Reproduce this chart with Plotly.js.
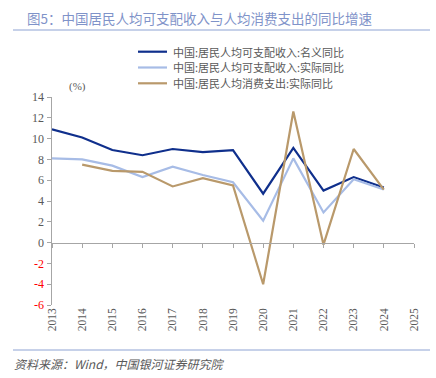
<!DOCTYPE html>
<html><head><meta charset="utf-8">
<script src="https://cdn.plot.ly/plotly-3.0.1.min.js"></script>
<style>body{margin:0;background:#fff}#c{width:436px;height:378px}</style>
</head><body><div id="c"></div>
<script>
const years = [2013,2014,2015,2016,2017,2018,2019,2020,2021,2022,2023,2024];
const nominalIncome = [10.9,10.1,8.9,8.4,9.0,8.7,8.9,4.7,9.1,5.0,6.3,5.3];
const realIncome = [8.1,8.0,7.4,6.3,7.3,6.5,5.8,2.1,8.1,2.9,6.1,5.1];
const realConsumption = [null,7.5,6.9,6.8,5.4,6.2,5.5,-4.0,12.6,-0.2,9.0,5.1];
const seriesNames = ['中国:居民人均可支配收入:名义同比','中国:居民人均可支配收入:实际同比','中国:居民人均消费支出:实际同比'];
const xTicks = [2013,2014,2015,2016,2017,2018,2019,2020,2021,2022,2023,2024,2025];
const yTicks = [-6,-4,-2,0,2,4,6,8,10,12,14];

const colors = ['#0f2f8c','#a7bce6','#b9996b'];
const serif = 'Liberation Serif, Times New Roman, serif';
const cjk = 'Noto Sans CJK SC, sans-serif';
const series = [nominalIncome, realIncome, realConsumption];
const traces = series.map((s,i)=>({
  x: years, y: s, name: seriesNames[i], type:'scatter', mode:'lines',
  line:{color:colors[i], width:2.2}, connectgaps:false, showlegend:false
}));
// invisible trace to carry xaxis2 (zero line axis)
traces.push({x:[2013,2025], y:[0,0], xaxis:'x2', yaxis:'y', mode:'lines', line:{width:0}, showlegend:false, hoverinfo:'skip'});

const yText = yTicks.map(v => v<0 ? '<span style="color:#ff0000">'+v+'</span>' : String(v));

// manual legend (paper coords): plot area left=52, width=362, top=97, height=208
const px = x => (x-52)/362;
const py = y => 1 - (y-97)/208;
const legendRows = [51.7, 67.5, 83.3];
const shapes = [
  {type:'line', xref:'paper', yref:'paper', x0:px(13), x1:px(430), y0:py(30), y1:py(30), line:{color:'#8ea3d3', width:1}},
  {type:'line', xref:'paper', yref:'paper', x0:px(13), x1:px(430), y0:py(350), y1:py(350), line:{color:'#8ea3d3', width:1}}
];
const annotations = [
  {text:'图5：中国居民人均可支配收入与人均消费支出的同比增速', xref:'paper', yref:'paper', x:px(25), y:py(18), xanchor:'left', yanchor:'middle', showarrow:false, font:{family:cjk, size:13.5, color:'#7f93c9'}},
  {text:'(%)', xref:'paper', yref:'paper', x:px(67), y:py(86), xanchor:'left', yanchor:'middle', showarrow:false, font:{family:serif, size:11, color:'#595959'}},
  {text:'<i>资料来源：Wind，中国银河证券研究院</i>', xref:'paper', yref:'paper', x:px(12), y:py(363), xanchor:'left', yanchor:'middle', showarrow:false, font:{family:cjk, size:12, color:'#595959'}}
];
seriesNames.forEach((n,i)=>{
  shapes.push({type:'line', xref:'paper', yref:'paper', x0:px(138), x1:px(167), y0:py(legendRows[i]), y1:py(legendRows[i]), line:{color:colors[i], width:2.2}});
  annotations.push({text:n, xref:'paper', yref:'paper', x:px(171), y:py(legendRows[i]), xanchor:'left', yanchor:'middle', showarrow:false, font:{family:cjk, size:11, color:'#595959'}});
});

const layout = {
  width:436, height:378,
  margin:{l:52, r:22, t:97, b:73},
  paper_bgcolor:'#fff', plot_bgcolor:'#fff',
  showlegend:false,
  xaxis:{range:[2013,2025], tickvals:xTicks, ticktext:xTicks.map(String), tickangle:-90,
    showline:false, ticks:'', showgrid:false, zeroline:false,
    tickfont:{family:serif, size:11.5, color:'#595959'}},
  xaxis2:{range:[2013,2025], overlaying:'x', anchor:'free', position:0.3, side:'bottom',
    tickvals:xTicks, showticklabels:false, ticks:'outside', ticklen:4, tickcolor:'#a6a6a6',
    showline:true, linecolor:'#a6a6a6', linewidth:1.5, showgrid:false, zeroline:false},
  yaxis:{range:[-6,14], tickvals:yTicks, ticktext:yText, showline:true, linecolor:'#a6a6a6', linewidth:1.5,
    ticks:'outside', ticklen:4, tickcolor:'#a6a6a6', showgrid:false, zeroline:false,
    tickfont:{family:serif, size:12, color:'#595959'}},
  shapes: shapes,
  annotations: annotations
};
Plotly.newPlot('c', traces, layout, {staticPlot:true, displayModeBar:false});
</script></body></html>
